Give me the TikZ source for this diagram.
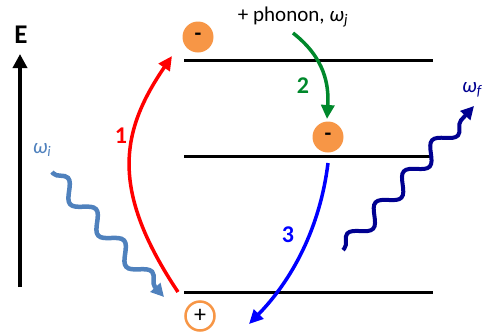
\documentclass[tikz,border=0pt]{standalone}
\usepackage{fontspec}
\setmainfont{Carlito}
\usetikzlibrary{arrows.meta,decorations.pathmorphing}
\definecolor{orng}{HTML}{F79646}
\definecolor{steel}{HTML}{4F81BD}
\definecolor{navy}{HTML}{000090}
\definecolor{grn}{HTML}{00882B}
\tikzset{
  level/.style={line width=3pt,black},
  charge/.style={circle,fill=orng,minimum size=31pt,inner sep=0pt,font=\fontsize{22}{22}\selectfont\bfseries},
  hole/.style={circle,draw=orng,line width=2.5pt,fill=white,minimum size=29pt,inner sep=0pt,font=\fontsize{24}{24}\selectfont},
  trans/.style={line width=3.5pt,-{Triangle[length=14pt,width=13pt]}},
  lbl/.style={font=\fontsize{24}{24}\selectfont\bfseries},
  wav/.style={line width=4.5pt,decorate,decoration={snake,amplitude=8pt,segment length=42pt,pre length=2pt,post length=12pt},-{Triangle[length=13pt,width=13pt]}},
  txt/.style={font=\fontsize{21}{22}\selectfont}
}
\begin{document}
\begin{tikzpicture}[x=1pt,y=-1pt]
\useasboundingbox (0,0) rectangle (483,333);
% levels
\coordinate (t1) at (184,60); \coordinate (t2) at (433,60);
\coordinate (m1) at (184,156); \coordinate (m2) at (433,156);
\coordinate (b1) at (184,292); \coordinate (b2) at (433,292);
\draw[level] (t1) -- (t2);
\draw[level] (m1) -- (m2);
\draw[level] (b1) -- (b2);
% energy axis
\coordinate (e0) at (20,287); \coordinate (e1) at (20,54);
\draw[line width=4pt,-{Triangle[length=14pt,width=14pt]}] (e0) -- (e1);
\node[font=\fontsize{27}{27}\selectfont\bfseries] (E) at (21,35) {E};
% charges
\node[charge] (c1) at (198,37) {-};
\node[charge] (c2) at (328,137) {-};
\node[hole] (h) at (200,316) {+};
% phonon text
\node[txt] (ph) at (293,17) {+ phonon, \textit{ω}\textsubscript{\textit{j}}};
% transitions
\coordinate (r0) at (178,292); \coordinate (r1) at (172,56);
\draw[trans,red] (r0) .. controls (110,190) and (120,132) .. (r1);
\node[lbl,red] (l1) at (121,136) {1};
\coordinate (g0) at (293,33); \coordinate (g1) at (327,119);
\draw[trans,grn] (g0) .. controls (325,58) and (329,85) .. (g1);
\node[lbl,grn] (l2) at (303,86) {2};
\coordinate (b0) at (328,163); \coordinate (b3) at (249,324);
\draw[trans,blue] (b0) .. controls (320,228) and (292,280) .. (b3);
\node[lbl,blue] (l3) at (288,235) {3};
% photons
\coordinate (wi0) at (52,172); \coordinate (wi1) at (164,297);
\draw[wav,steel] (wi0) -- (wi1);
\node[txt,steel] (wi) at (42,150) {\textit{ω}\textsubscript{\textit{i}}};
\coordinate (wf0) at (343,250); \coordinate (wf1) at (474,106);
\draw[wav,navy,line width=4pt] (wf0) -- (wf1);
\node[txt,navy,anchor=west,inner sep=0pt] (wf) at (462,90) {\textit{ω}\textsubscript{\textit{f}}};
\end{tikzpicture}
\end{document}
